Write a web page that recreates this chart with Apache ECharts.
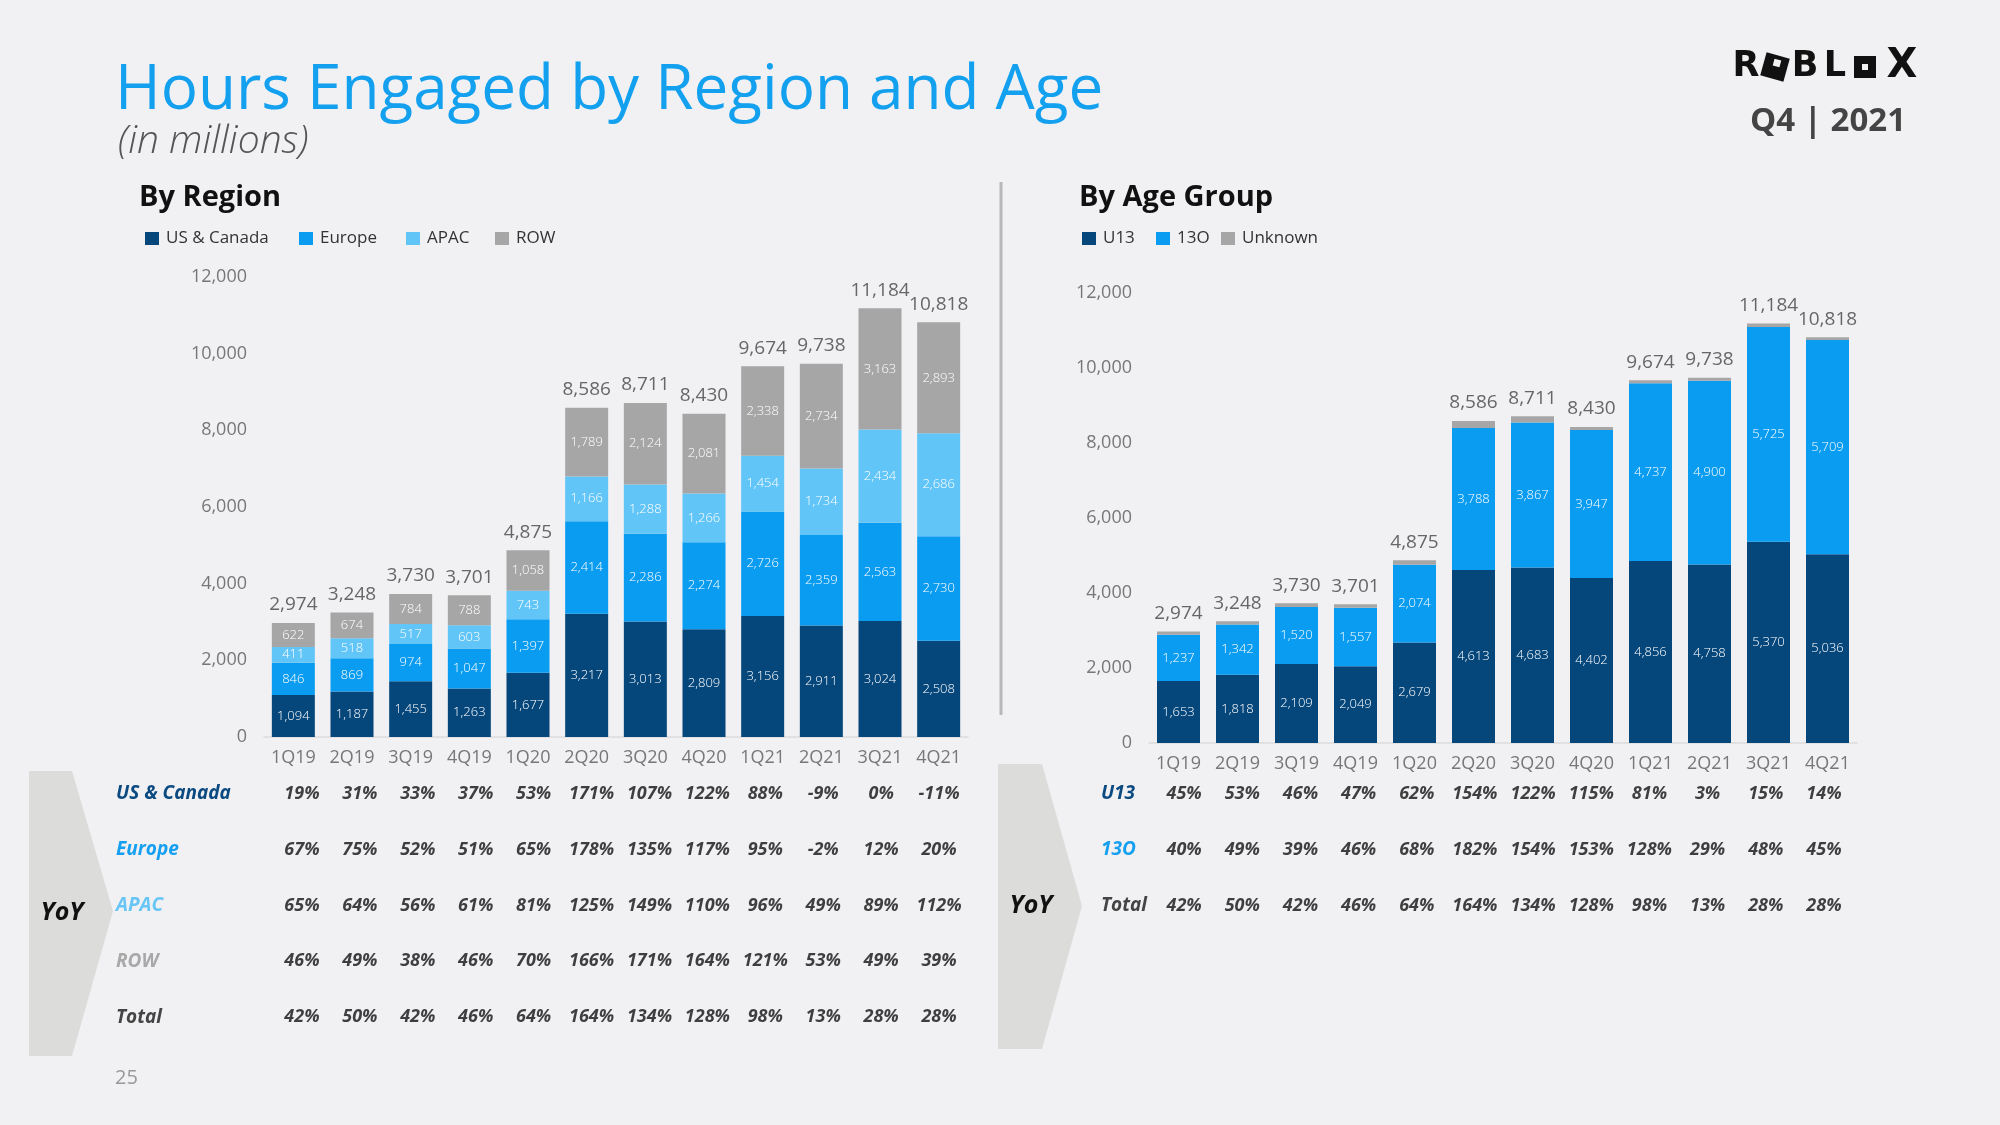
<!DOCTYPE html>
<html>
<head>
<meta charset="utf-8">
<script src="https://cdn.jsdelivr.net/npm/echarts@6/dist/echarts.min.js"></script>
<style>
html,body{margin:0;padding:0;background:#f1f1f4;}
#c{width:2000px;height:1125px;}
</style>
</head>
<body>
<div id="c"></div>
<script>
// ---- Data ----
var quarters = ['1Q19','2Q19','3Q19','4Q19','1Q20','2Q20','3Q20','4Q20','1Q21','2Q21','3Q21','4Q21'];
var usCanada = [1094,1187,1455,1263,1677,3217,3013,2809,3156,2911,3024,2508];
var europe   = [846,869,974,1047,1397,2414,2286,2274,2726,2359,2563,2730];
var apac     = [411,518,517,603,743,1166,1288,1266,1454,1734,2434,2686];
var rowRegion= [622,674,784,788,1058,1789,2124,2081,2338,2734,3163,2893];
var totals   = [2974,3248,3730,3701,4875,8586,8711,8430,9674,9738,11184,10818];
var u13      = [1653,1818,2109,2049,2679,4613,4683,4402,4856,4758,5370,5036];
var o13      = [1237,1342,1520,1557,2074,3788,3867,3947,4737,4900,5725,5709];
var unknown  = [84,88,101,95,122,185,161,81,81,80,89,73];

var regionRows = ['US & Canada','Europe','APAC','ROW','Total'];
var yoyUS     = [19,31,33,37,53,171,107,122,88,-9,0,-11];
var yoyEurope = [67,75,52,51,65,178,135,117,95,-2,12,20];
var yoyAPAC   = [65,64,56,61,81,125,149,110,96,49,89,112];
var yoyROW    = [46,49,38,46,70,166,171,164,121,53,49,39];
var yoyTotal  = [42,50,42,46,64,164,134,128,98,13,28,28];

var ageRows = ['U13','13O','Total'];
var yoyU13    = [45,53,46,47,62,154,122,115,81,3,15,14];
var yoyO13    = [40,49,39,46,68,182,154,153,128,29,48,45];
var yoyAgeTotal = [42,50,42,46,64,164,134,128,98,13,28,28];

// ---- Styles ----
var FONT = '"Open Sans", "Noto Sans", sans-serif';
var C_US = '#05467b', C_EU = '#0a9cf0', C_AP = '#62c5f7', C_ROW = '#a6a6a6';
var fmt = function (v) { return Number(v).toLocaleString('en-US'); };

function barSeries(name, data, color, xi, stack, showLabel) {
  return {
    name: name, type: 'bar', stack: stack, xAxisIndex: xi, yAxisIndex: xi,
    data: data, barWidth: 43,
    itemStyle: { color: color },
    label: {
      show: showLabel, position: 'inside', color: '#ffffff', fontSize: 13,
      fontFamily: FONT, fontWeight: 300,
      formatter: function (p) { return fmt(p.value); }
    },
    emphasis: { disabled: true }
  };
}
function totalSeries(data, xi) {
  return {
    type: 'scatter', xAxisIndex: xi, yAxisIndex: xi, data: data,
    symbolSize: 1, itemStyle: { color: 'rgba(0,0,0,0)' }, silent: true,
    label: { show: true, position: 'top', distance: 8, color: '#444', fontSize: 19,
      fontFamily: FONT, formatter: function (p) { return fmt(p.value); } }
  };
}
function tableSeries(arr, r, xi) {
  return {
    type: 'scatter', xAxisIndex: xi, yAxisIndex: xi, silent: true,
    data: arr.map(function (v, c) { return [c, r, v]; }),
    symbolSize: 1, itemStyle: { color: 'rgba(0,0,0,0)' },
    label: { show: true, position: 'inside', color: '#111', fontSize: 18,
      fontWeight: 'bold', fontStyle: 'italic', fontFamily: FONT,
      formatter: function (p) { return p.value[2] + '%'; } }
  };
}
function valueAxis(gi) {
  return {
    type: 'value', gridIndex: gi, min: 0, max: 12000, interval: 2000,
    splitLine: { show: false }, axisLine: { show: false }, axisTick: { show: false },
    axisLabel: { color: '#777', fontSize: 18, fontFamily: FONT, margin: 17,
      formatter: function (v) { return fmt(v); } }
  };
}
function catAxis(gi) {
  return {
    type: 'category', gridIndex: gi, data: quarters,
    axisLine: { show: true, lineStyle: { color: '#dcdcdc', width: 1.5 } },
    axisTick: { show: false },
    axisLabel: { color: '#777', fontSize: 18, fontFamily: FONT, margin: 12 }
  };
}
function legendItem(name, left) {
  return { data: [name], left: left, top: 230, icon: 'rect', padding: 0,
    itemWidth: 14, itemHeight: 13, selectedMode: false,
    textStyle: { color: '#333', fontSize: 17, fontFamily: FONT, padding: [0,0,0,2] } };
}
var LBL = { fontWeight: 'bold', fontStyle: 'italic', fontSize: 19, fontFamily: FONT };
var rowRich = {
  r0: Object.assign({ color: '#0a4a80' }, LBL),
  r1: Object.assign({ color: '#149ff0' }, LBL),
  r2: Object.assign({ color: '#68c6f7' }, LBL),
  r3: Object.assign({ color: '#a8a8a8' }, LBL),
  r4: Object.assign({ color: '#444444' }, LBL)
};
var ageRich = { r0: rowRich.r0, r1: rowRich.r1, r2: rowRich.r4 };

var chart = echarts.init(document.getElementById('c'), null, { renderer: 'canvas' });

var LOGO_FONT = '"DejaVu Sans", sans-serif';
var option = {
  backgroundColor: '#f1f1f4',
  animation: false,
  textStyle: { fontFamily: FONT },
  grid: [
    { left: 264, right: 1032, top: 277, bottom: 388 },
    { left: 1149, right: 143, top: 293, bottom: 382 },
    { left: 273, right: 1032, top: 766, bottom: 80 },
    { left: 1155, right: 147, top: 766, bottom: 191 }
  ],
  legend: [
    legendItem('US & Canada', 145),
    legendItem('Europe', 299),
    legendItem('APAC', 406),
    legendItem('ROW', 495),
    legendItem('U13', 1082),
    legendItem('13O', 1156),
    legendItem('Unknown', 1221)
  ],
  xAxis: [
    catAxis(0), catAxis(1),
    { type: 'category', gridIndex: 2, data: quarters, show: false },
    { type: 'category', gridIndex: 3, data: quarters, show: false }
  ],
  yAxis: [
    valueAxis(0), valueAxis(1),
    { type: 'category', gridIndex: 2, data: regionRows, inverse: true,
      axisLine: { show: false }, axisTick: { show: false }, splitLine: { show: false },
      axisLabel: { align: 'left', margin: 157, rich: rowRich,
        formatter: function (v, i) { return '{r' + i + '|' + v + '}'; } } },
    { type: 'category', gridIndex: 3, data: ageRows, inverse: true,
      axisLine: { show: false }, axisTick: { show: false }, splitLine: { show: false },
      axisLabel: { align: 'left', margin: 54, rich: ageRich,
        formatter: function (v, i) { return '{r' + i + '|' + v + '}'; } } }
  ],
  series: [
    barSeries('US & Canada', usCanada, C_US, 0, 'r', true),
    barSeries('Europe', europe, C_EU, 0, 'r', true),
    barSeries('APAC', apac, C_AP, 0, 'r', true),
    barSeries('ROW', rowRegion, C_ROW, 0, 'r', true),
    totalSeries(totals, 0),
    barSeries('U13', u13, C_US, 1, 'a', true),
    barSeries('13O', o13, C_EU, 1, 'a', true),
    barSeries('Unknown', unknown, C_ROW, 1, 'a', false),
    totalSeries(totals, 1),
    tableSeries(yoyUS, 0, 2),
    tableSeries(yoyEurope, 1, 2),
    tableSeries(yoyAPAC, 2, 2),
    tableSeries(yoyROW, 3, 2),
    tableSeries(yoyTotal, 4, 2),
    tableSeries(yoyU13, 0, 3),
    tableSeries(yoyO13, 1, 3),
    tableSeries(yoyAgeTotal, 2, 3)
  ],
  graphic: [
    { type: 'text', x: 115, y: 91, style: { text: 'Hours Engaged by Region and Age', fill: '#12a0ef',
      fontSize: 62, fontFamily: FONT, textVerticalAlign: 'middle' } },
    { type: 'text', x: 118, y: 142, style: { text: '(in millions)', fill: '#555',
      fontSize: 39, fontStyle: 'italic', fontWeight: 300, fontFamily: FONT, textVerticalAlign: 'middle' } },
    { type: 'text', x: 139, y: 198, style: { text: 'By Region', fill: '#111',
      fontSize: 29, fontWeight: 'bold', fontFamily: FONT, textVerticalAlign: 'middle' } },
    { type: 'text', x: 1079, y: 198, style: { text: 'By Age Group', fill: '#111',
      fontSize: 29, fontWeight: 'bold', fontFamily: FONT, textVerticalAlign: 'middle' } },
    // divider
    { type: 'rect', shape: { x: 999.5, y: 182, width: 3, height: 533 }, style: { fill: '#b8b8b8' } },
    // logo
    { type: 'text', x: 1746, y: 67, style: { text: 'R', fill: '#111', fontSize: 35, fontWeight: 900,
      fontFamily: LOGO_FONT, textAlign: 'center', textVerticalAlign: 'middle' } },
    { type: 'rect', x: 1775, y: 67, rotation: -0.27, shape: { x: -12, y: -12, width: 24, height: 24 }, style: { fill: '#111' } },
    { type: 'rect', x: 1777, y: 63, rotation: -0.27, shape: { x: -3.5, y: -3.5, width: 7, height: 7 }, style: { fill: '#f1f1f4' } },
    { type: 'text', x: 1805, y: 67, style: { text: 'B', fill: '#111', fontSize: 35, fontWeight: 900,
      fontFamily: LOGO_FONT, textAlign: 'center', textVerticalAlign: 'middle' } },
    { type: 'text', x: 1835, y: 67, style: { text: 'L', fill: '#111', fontSize: 35, fontWeight: 900,
      fontFamily: LOGO_FONT, textAlign: 'center', textVerticalAlign: 'middle' } },
    { type: 'rect', shape: { x: 1854, y: 56, width: 22, height: 22 }, style: { fill: '#111' } },
    { type: 'rect', shape: { x: 1862, y: 64, width: 6, height: 6 }, style: { fill: '#f1f1f4' } },
    { type: 'text', x: 1902, y: 67, style: { text: 'X', fill: '#111', fontSize: 40, fontWeight: 900,
      fontFamily: LOGO_FONT, textAlign: 'center', textVerticalAlign: 'middle' } },
    { type: 'text', x: 1906, y: 122, style: { text: 'Q4 | 2021', fill: '#444', fontSize: 33, fontWeight: 'bold',
      fontFamily: FONT, textAlign: 'right', textVerticalAlign: 'middle' } },
    // chevrons
    { type: 'polygon', shape: { points: [[29,771],[72,771],[113,911],[72,1056],[29,1056]] }, style: { fill: '#dcdcdb' } },
    { type: 'text', x: 62, y: 913, style: { text: 'YoY', fill: '#111', fontSize: 25, fontWeight: 'bold', fontStyle: 'italic',
      fontFamily: FONT, textAlign: 'center', textVerticalAlign: 'middle' } },
    { type: 'polygon', shape: { points: [[998,764],[1042,764],[1082,906],[1042,1049],[998,1049]] }, style: { fill: '#dcdcdb' } },
    { type: 'text', x: 1031, y: 906, style: { text: 'YoY', fill: '#111', fontSize: 25, fontWeight: 'bold', fontStyle: 'italic',
      fontFamily: FONT, textAlign: 'center', textVerticalAlign: 'middle' } },
    { type: 'text', x: 115, y: 1078, style: { text: '25', fill: '#999', fontSize: 20, fontFamily: FONT, textVerticalAlign: 'middle' } }
  ]
};
chart.setOption(option);
</script>
</body>
</html>
